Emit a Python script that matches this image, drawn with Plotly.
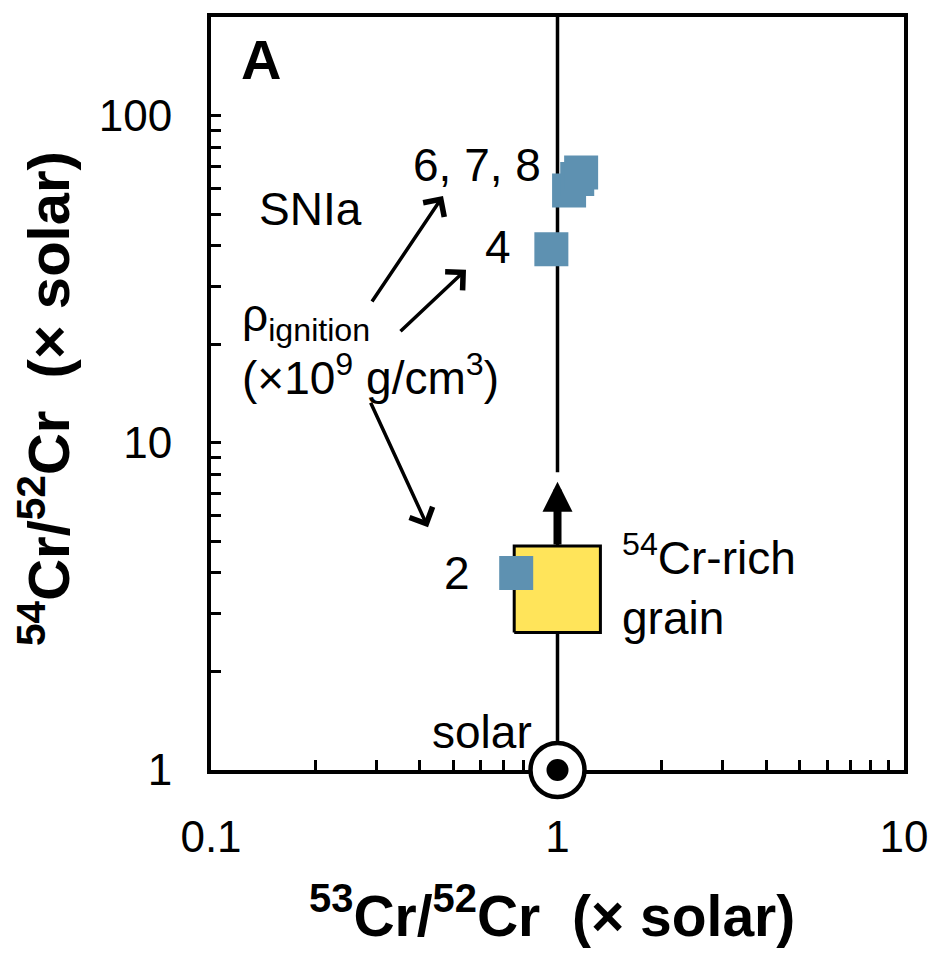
import math
import plotly.graph_objects as go

# SNIa model predictions (labelled by ignition density, x10^9 g/cm3)
model_x = [0.76, 0.96, 1.08, 1.14, 1.17]
model_y = [4.0, 39.0, 59.0, 64.0, 67.0]

# 54Cr-rich grain: box extent and lower-limit arrow tip
grain_x = [0.75, 1.33]
grain_y = [2.63, 4.84]
grain_limit_tip = 7.6

# solar reference point
solar_x = [1.0]
solar_y = [1.0]

x_ticks = [0.1, 1, 10]
x_tick_text = ["0.1", "1", "10"]
x_minor = [0.2, 0.3, 0.4, 0.5, 0.6, 0.7, 0.8, 0.9, 2, 3, 4, 5, 6, 7, 8, 9]
y_ticks = [1, 10, 100]
y_tick_text = ["1", "10", "100"]
y_minor = [2, 3, 4, 5, 6, 7, 8, 9, 20, 30, 40, 50, 60, 70, 80, 90, 200]

FONT = "Liberation Sans, Arial, Helvetica, sans-serif"
W, H = 937, 956
PAGE = 8  # body margin of the html page
L, R, T, B = 211 - PAGE, 33 + PAGE, 13 - PAGE, 186 + PAGE


def px(x):
    # page pixel -> paper x
    return (x - PAGE - L) / (W - L - R)


def py(y):
    # page pixel -> paper y
    return (H - B - (y - PAGE)) / (H - T - B)


fig = go.Figure()

# vertical guide line at x = solar (with small gap above the grain arrow)
fig.add_trace(go.Scatter(
    x=[1, 1, None, 1, 1],
    y=[1, grain_limit_tip * 0.95, None, grain_limit_tip * 1.07, 200],
    mode="lines", line=dict(color="black", width=3.5),
    hoverinfo="skip", showlegend=False,
))

# grain box
gx0, gx1 = grain_x
gy0, gy1 = grain_y
fig.add_trace(go.Scatter(
    x=[gx0, gx1, gx1, gx0, gx0],
    y=[gy0, gy0, gy1, gy1, gy0],
    mode="lines", fill="toself", fillcolor="#FFE45A",
    line=dict(color="black", width=3),
    hoverinfo="skip", showlegend=False,
))

# SNIa models
fig.add_trace(go.Scatter(
    x=model_x, y=model_y, mode="markers",
    marker=dict(symbol="square", size=34, color="#5E91B1", line=dict(width=0)),
    showlegend=False,
))

# solar symbol
fig.add_trace(go.Scatter(
    x=solar_x, y=solar_y, mode="markers", cliponaxis=False,
    marker=dict(symbol="circle", size=54, color="white", line=dict(color="black", width=4.5)),
    showlegend=False,
))
fig.add_trace(go.Scatter(
    x=solar_x, y=solar_y, mode="markers", cliponaxis=False,
    marker=dict(symbol="circle", size=22, color="black", line=dict(width=0)),
    showlegend=False,
))

txt = dict(size=46, color="black", family=FONT)
ann = []

# lower limit arrow on the grain
ann.append(dict(
    x=0, y=math.log10(grain_limit_tip), ax=0, ay=math.log10(gy1),
    xref="x", yref="y", axref="x", ayref="y",
    showarrow=True, arrowhead=2, arrowsize=0.75, arrowwidth=8, arrowcolor="black",
    standoff=0, startstandoff=0, text="",
))

# point labels
ann.append(dict(x=math.log10(model_x[0]), y=math.log10(model_y[0]), xref="x", yref="y",
                text="2", showarrow=False, xanchor="right", yanchor="middle", xshift=-44, font=txt))
ann.append(dict(x=math.log10(model_x[1]), y=math.log10(model_y[1]), xref="x", yref="y",
                text="4", showarrow=False, xanchor="right", yanchor="middle", xshift=-38,
                yshift=2, font=txt))
ann.append(dict(x=math.log10(model_x[2]), y=math.log10(model_y[2]), xref="x", yref="y",
                text="6, 7, 8", showarrow=False, xanchor="right", yanchor="middle",
                xshift=-26, yshift=26, font=txt))
ann.append(dict(x=math.log10(gx1), y=(math.log10(gy0) + math.log10(gy1)) / 2, xref="x", yref="y",
                text="<sup>54</sup>Cr-rich<br>grain", showarrow=False, xanchor="left",
                yanchor="middle", align="left", xshift=20, yshift=4, font=txt))
ann.append(dict(x=0, y=0, xref="x", yref="y", text="solar", showarrow=False,
                xanchor="right", yanchor="middle", xshift=-24, yshift=38, font=txt))

# free text
ann.append(dict(x=px(261), y=py(56), xref="paper", yref="paper", text="<b>A</b>",
                showarrow=False, xanchor="center", yanchor="middle",
                font=dict(size=56, color="black", family=FONT)))
ann.append(dict(x=px(310), y=py(206), xref="paper", yref="paper", text="SNIa",
                showarrow=False, xanchor="center", yanchor="middle", font=txt))
ann.append(dict(x=px(240), y=py(316), xref="paper", yref="paper", text="ρ<sub>ignition</sub>",
                showarrow=False, xanchor="left", yanchor="middle", font=txt))
ann.append(dict(x=px(240), y=py(373), xref="paper", yref="paper",
                text="(×10<sup>9</sup> g/cm<sup>3</sup>)",
                showarrow=False, xanchor="left", yanchor="middle", font=txt))

# arrows from rho_ignition to model groups
arrow_style = dict(xref="paper", yref="paper", axref="pixel", ayref="pixel", showarrow=True,
                   arrowhead=4, arrowsize=1.4, arrowwidth=3.5, arrowcolor="black",
                   standoff=0, text="")
ann.append(dict(x=px(443), y=py(193), ax=-72, ay=107, **arrow_style))
ann.append(dict(x=px(466), y=py(267), ax=-67, ay=63, **arrow_style))
ann.append(dict(x=px(428), y=py(526), ax=-58, ay=-126, **arrow_style))

# axis titles
ann.append(dict(x=px(552), y=py(913), xref="paper", yref="paper",
                text="<b><sup>53</sup>Cr/<sup>52</sup>Cr  (× solar)</b>", showarrow=False,
                xanchor="center", yanchor="middle",
                font=dict(size=57, color="black", family=FONT)))
ann.append(dict(x=px(45), y=py(397), xref="paper", yref="paper", textangle=-90,
                text="<b><sup>54</sup>Cr/<sup>52</sup>Cr  (× solar)</b>", showarrow=False,
                xanchor="center", yanchor="middle",
                font=dict(size=58, color="black", family=FONT)))

axis_common = dict(
    type="log", showgrid=False, zeroline=False,
    showline=True, linewidth=4, linecolor="black", mirror=True,
    ticks="inside", ticklen=10, tickwidth=3, tickcolor="black",
    tickfont=dict(size=44, color="black", family=FONT),
    layer="below traces",
)

fig.update_layout(
    width=W, height=H,
    margin=dict(l=L, r=R, t=T, b=B),
    plot_bgcolor="white", paper_bgcolor="white",
    font=dict(family=FONT, color="black"),
    xaxis=dict(range=[-1, 1], tickmode="array", tickvals=x_ticks, ticktext=x_tick_text,
               minor=dict(tickmode="array", tickvals=x_minor, ticks="inside", ticklen=10,
                          tickwidth=3, tickcolor="black"),
               ticklabelstandoff=25, **axis_common),
    yaxis=dict(range=[0, math.log10(200)], tickmode="array", tickvals=y_ticks, ticktext=y_tick_text,
               minor=dict(tickmode="array", tickvals=y_minor, ticks="inside", ticklen=10,
                          tickwidth=3, tickcolor="black"),
               ticklabelstandoff=26, **axis_common),
    annotations=ann,
    showlegend=False,
)

fig.write_html("out.html")
